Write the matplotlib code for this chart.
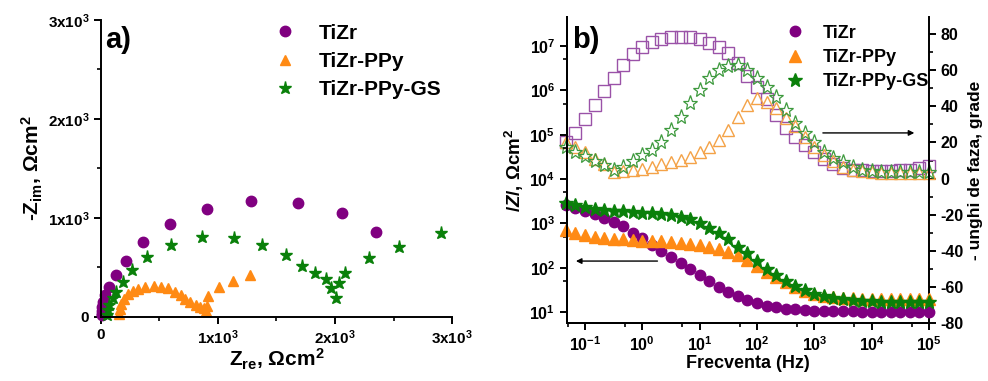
import numpy as np
import matplotlib
matplotlib.use("Agg")
from matplotlib import pyplot as plt
from matplotlib.ticker import MultipleLocator, LogLocator, NullFormatter

plt.rcParams['font.family'] = ['Liberation Sans', 'DejaVu Sans']
plt.rcParams['font.weight'] = 'bold'
plt.rcParams['axes.labelweight'] = 'bold'
plt.rcParams['mathtext.fontset'] = 'custom'
plt.rcParams['mathtext.rm'] = 'Liberation Sans:bold'
plt.rcParams['mathtext.bf'] = 'Liberation Sans:bold'
plt.rcParams['mathtext.it'] = 'Liberation Sans:bold:italic'
plt.rcParams['mathtext.default'] = 'bf'
plt.rcParams['axes.linewidth'] = 1.4

# ---------- Nyquist data (Zre, -Zim), ohm cm2 ----------
nyq_tizr_re = [2349, 2060, 1685, 1284, 909, 591, 355, 213, 128, 71, 38, 20, 12, 8, 6, 5]
nyq_tizr_im = [861, 1044, 1153, 1169, 1092, 942, 753, 566, 422, 305, 220, 152, 95, 55, 30, 15]

nyq_ppy_re = [1270, 1128, 1009, 915, 905, 895, 880, 850, 810, 765, 720, 680, 630, 570,
              510, 450, 380, 320, 270, 230, 200, 175, 160, 150]
nyq_ppy_im = [425, 363, 296, 211, 108, 60, 85, 100, 118, 145, 180, 215, 250, 290,
              305, 310, 300, 285, 260, 225, 180, 130, 75, 30]

nyq_gs_re = [2907, 2549, 2287, 2083, 2031, 2009, 1969, 1923, 1833, 1719, 1577, 1378,
             1136, 861, 597, 392, 261, 184, 128, 99, 71, 56, 51]
nyq_gs_im = [850, 708, 590, 439, 338, 186, 287, 378, 445, 516, 624, 725,
             793, 803, 725, 607, 472, 354, 253, 186, 118, 68, 17]

# ---------- Bode data ----------
freq = [0.0464, 0.0681, 0.1, 0.147, 0.215, 0.316, 0.464, 0.681, 1, 1.47,
        2.15, 3.16, 4.64, 6.81, 10, 14.7, 21.5, 31.6, 46.4, 68.1,
        100, 147, 215, 316, 464, 681, 1000, 1470, 2150, 3160,
        4640, 6810, 1e4, 1.47e4, 2.15e4, 3.16e4, 4.64e4, 6.81e4, 1e5]

zmod_tizr = [2600, 2200, 1900, 1600, 1350, 1100, 850, 620, 470, 330,
             240, 175, 130, 92, 67, 49, 37, 29, 23, 18.5,
             16, 14, 13, 12, 11.5, 11, 10.8, 10.6, 10.5, 10.4,
             10.3, 10.2, 10.2, 10.1, 10.1, 10, 10, 10, 10]
zmod_ppy = [700, 620, 550, 500, 470, 455, 440, 420, 410, 400,
            390, 380, 365, 345, 320, 295, 265, 230, 190, 150,
            110, 82, 62, 47, 37, 30, 26, 23.5, 22, 21,
            20.5, 20, 20, 20, 20, 20, 20, 20, 20]
zmod_gs = [2900, 2600, 2350, 2150, 2000, 1900, 1850, 1800, 1750, 1700,
           1620, 1550, 1420, 1250, 1020, 800, 610, 440, 300, 210,
           140, 95, 68, 50, 38, 31, 26, 23, 21, 19.5,
           18.5, 18, 17.5, 17, 17, 17, 17, 17, 17]

phase_tizr = [20, 25.5, 33, 41, 48.5, 56, 63, 69, 73, 75.5,
              77.2, 78.3, 78.5, 78.3, 77.2, 75, 72.8, 69.5, 64, 57,
              51, 44, 35.5, 28, 23, 18.5, 14.5, 11, 8, 6,
              5, 4.5, 4, 4, 4, 4.5, 5, 6, 7]
phase_ppy = [20, 17.5, 14.5, 11, 8, 3.5, 4, 4.5, 5.5, 6.5,
             8, 9, 10.5, 12, 15, 17.7, 21.5, 27, 34, 41,
             44.5, 42.5, 39, 33.6, 29, 23, 17.7, 13, 9.5, 6.6,
             5, 4, 3.5, 3, 3, 3, 3, 3, 3]
phase_gs = [17.5, 14.5, 12.5, 10, 7.5, 4.5, 6.5, 10, 13, 16,
            20, 27, 34, 42, 49, 55.5, 60, 62.5, 63, 60,
            56, 51, 45, 38, 31, 25, 20, 15, 11.6, 9,
            6.6, 5, 4, 3.5, 3.5, 3.5, 3.5, 3.5, 3.5]

labels = ['TiZr', 'TiZr-PPy', 'TiZr-PPy-GS']
c_pur = '#800080'
c_org = '#FF8A14'
c_grn = '#0A800A'

fig = plt.figure(figsize=(9.88, 3.81), dpi=100)

# ================= a) Nyquist =================
ax1 = fig.add_axes([0.1022, 0.1688, 0.3553, 0.7787])
ax1.plot(nyq_tizr_re, nyq_tizr_im, 'o', color=c_pur, ms=7.5, ls='none', clip_on=False, label=labels[0])
ax1.plot(nyq_ppy_re, nyq_ppy_im, '^', color=c_org, ms=7.5, ls='none', clip_on=False, label=labels[1])
ax1.plot(nyq_gs_re, nyq_gs_im, '*', color=c_grn, ms=9.5, ls='none', clip_on=False, label=labels[2])
ax1.set_xlim(0, 3000)
ax1.set_ylim(0, 3000)
ax1.spines['top'].set_visible(False)
ax1.spines['right'].set_visible(False)
tl = ['0', '1x10$^3$', '2x10$^3$', '3x10$^3$']
ax1.set_xticks([0, 1000, 2000, 3000])
ax1.set_xticklabels(tl, fontsize=11, fontweight='bold')
ax1.set_yticks([0, 1000, 2000, 3000])
ax1.set_yticklabels(tl, fontsize=11, fontweight='bold')
ax1.xaxis.set_minor_locator(MultipleLocator(500))
ax1.yaxis.set_minor_locator(MultipleLocator(500))
ax1.tick_params(which='major', direction='out', length=5, width=1.4)
ax1.tick_params(which='minor', direction='out', length=3, width=1.2)
ax1.set_xlabel('Z$_{re}$, \u03a9cm$^2$', fontsize=15, fontweight='bold', labelpad=0)
ax1.set_ylabel('-Z$_{im}$, \u03a9cm$^2$', fontsize=15, fontweight='bold', labelpad=2)
ax1.text(0.012, 0.905, 'a)', transform=ax1.transAxes, fontsize=21, fontweight='bold')
ax1.legend(loc='upper left', bbox_to_anchor=(0.43, 1.03), frameon=False,
           prop={'size': 15, 'weight': 'bold'},
           handletextpad=0.6, labelspacing=0.45, borderaxespad=0.2)

# ================= b) Bode =================
ax2 = fig.add_axes([0.5739, 0.1522, 0.3664, 0.8031])
ax3 = ax2.twinx()
ax2.set_zorder(ax3.get_zorder() + 1)
ax2.patch.set_visible(False)

ax3.plot(freq, phase_tizr, 's', mfc='none', mec='#9A52A8', mew=1.0, ms=8, ls='none', clip_on=False)
ax3.plot(freq, phase_ppy, '^', mfc='none', mec='#F4A247', mew=1.0, ms=9, ls='none', clip_on=False)
ax3.plot(freq, phase_gs, '*', mfc='none', mec='#3E9A3E', mew=0.9, ms=11, ls='none', clip_on=False)

ax2.plot(freq, zmod_tizr, 'o', color=c_pur, ms=7.5, ls='none', clip_on=False, label=labels[0])
ax2.plot(freq, zmod_ppy, '^', color=c_org, ms=8, ls='none', clip_on=False, label=labels[1])
ax2.plot(freq, zmod_gs, '*', color=c_grn, ms=10, ls='none', clip_on=False, label=labels[2])

ax2.set_xscale('log')
ax2.set_yscale('log')
ax2.set_xlim(0.0485, 1e5)
ax2.set_ylim(5.65, 4.5e7)
ax3.set_ylim(-80, 89.5)

for a in (ax2, ax3):
    a.spines['top'].set_visible(False)
ax2.spines['right'].set_visible(False)

ax2.set_xticks([10.0 ** k for k in range(-1, 6)])
ax2.set_xticklabels(['10$^{%d}$' % k for k in range(-1, 6)], fontsize=11.5, fontweight='bold')
ax2.xaxis.set_minor_locator(LogLocator(base=10, subs=[0.5], numticks=20))
ax2.xaxis.set_minor_formatter(NullFormatter())
ax2.set_yticks([10.0 ** k for k in range(1, 8)])
ax2.set_yticklabels(['10$^{%d}$' % k for k in range(1, 8)], fontsize=11.5, fontweight='bold')
ax2.yaxis.set_minor_locator(LogLocator(base=10, subs=[0.5], numticks=20))
ax2.yaxis.set_minor_formatter(NullFormatter())
ax3.set_yticks(range(-80, 81, 20))
ax3.set_yticklabels([str(v) for v in range(-80, 81, 20)], fontsize=11.5, fontweight='bold')
ax3.yaxis.set_minor_locator(MultipleLocator(10))
for a in (ax2, ax3):
    a.tick_params(which='major', direction='out', length=5, width=1.4)
    a.tick_params(which='minor', direction='out', length=3, width=1.2)

ax2.set_xlabel('Frecventa (Hz)', fontsize=13, fontweight='bold', labelpad=1)
ax2.set_ylabel('$\\mathit{/Z/}$, \u03a9cm$^2$', fontsize=13.5, fontweight='bold', labelpad=2)
ax3.set_ylabel('- unghi de faza, grade', fontsize=12.5, fontweight='bold', labelpad=3)
ax2.text(0.015, 0.9, 'b)', transform=ax2.transAxes, fontsize=21, fontweight='bold')

ax3.annotate('', xy=(6.2e4, 25.3), xytext=(1260, 25.3),
             arrowprops=dict(arrowstyle='-|>', color='k', lw=1.0, mutation_scale=8))
ax2.annotate('', xy=(0.062, 141), xytext=(2.05, 141),
             arrowprops=dict(arrowstyle='-|>', color='k', lw=1.0, mutation_scale=8))

ax2.legend(loc='upper left', bbox_to_anchor=(0.55, 1.01), frameon=False,
           prop={'size': 13, 'weight': 'bold'},
           handletextpad=0.55, labelspacing=0.4, borderaxespad=0.2)

fig.savefig('out.png', dpi=100)
